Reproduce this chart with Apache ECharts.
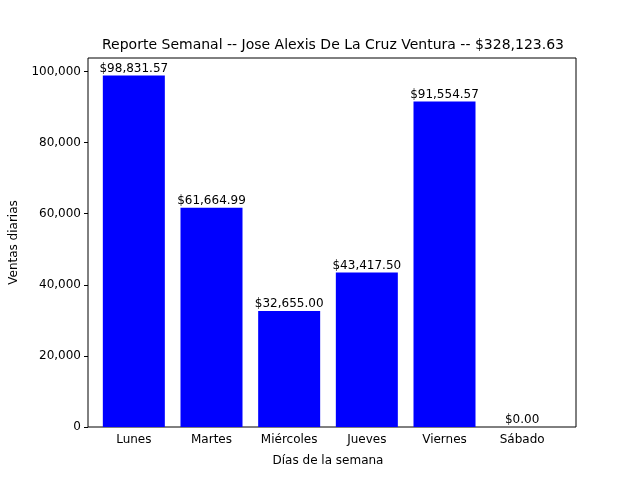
<!DOCTYPE html>
<html>
<head>
<meta charset="utf-8">
<script src="https://cdn.jsdelivr.net/npm/echarts@6/dist/echarts.min.js"></script>
<style>html,body{margin:0;padding:0;background:#fff}#main{width:640px;height:480px}</style>
</head>
<body>
<div id="main"></div>
<script>
const dias = ['Lunes', 'Martes', 'Miércoles', 'Jueves', 'Viernes', 'Sábado'];
const ventas = [98831.57, 61664.99, 32655.00, 43417.50, 91554.57, 0.00];
const yTicks = [0, 20000, 40000, 60000, 80000, 100000];

const total = ventas.reduce((a, b) => a + b, 0);
const fmt = v => '$' + v.toLocaleString('en-US', {minimumFractionDigits: 2, maximumFractionDigits: 2});
const yMax = Math.max(...ventas) * 1.05;
const font = 'DejaVu Sans';

const chart = echarts.init(document.getElementById('main'));
chart.setOption({
  animation: false,
  textStyle: {fontFamily: font},
  title: {
    text: 'Reporte Semanal -- Jose Alexis De La Cruz Ventura -- ' + fmt(total),
    left: 328, top: 33, textAlign: 'center',
    textStyle: {fontFamily: font, fontSize: 14, fontWeight: 'normal', color: '#000'}
  },
  grid: [
    {left: 80, right: 64, top: 58, bottom: 53, show: true, borderColor: '#000', borderWidth: 1},
    {left: 95, right: 79, top: 58, bottom: 53}
  ],
  xAxis: [
    {gridIndex: 0, type: 'value', show: false},
    {
      gridIndex: 1, type: 'category', data: dias,
      name: 'Días de la semana', nameLocation: 'middle', nameGap: 28,
      nameTextStyle: {fontFamily: font, fontSize: 12, color: '#000'},
      axisLine: {show: false},
      axisTick: {alignWithLabel: true, length: 4, lineStyle: {color: '#000'}},
      axisLabel: {fontFamily: font, fontSize: 12, color: '#000', margin: 7}
    }
  ],
  yAxis: [
    {
      gridIndex: 0, type: 'value', min: 0, max: yMax,
      name: 'Ventas diarias', nameLocation: 'middle', nameGap: 68,
      nameTextStyle: {fontFamily: font, fontSize: 12, color: '#000'},
      axisLine: {show: false},
      axisTick: {show: true, length: 4, lineStyle: {color: '#000'}},
      axisLabel: {
        fontFamily: font, fontSize: 12, color: '#000', margin: 7,
        customValues: yTicks
      },
      axisTick: {show: true, length: 4, lineStyle: {color: '#000'}, customValues: yTicks},
      splitLine: {show: false}
    },
    {gridIndex: 1, type: 'value', min: 0, max: yMax, show: false}
  ],
  series: [{
    type: 'bar', xAxisIndex: 1, yAxisIndex: 1,
    data: ventas, barWidth: 62,
    itemStyle: {color: '#0000ff'},
    label: {
      show: true, position: 'top', distance: 1,
      fontFamily: font, fontSize: 12, color: '#000',
      formatter: p => fmt(p.value)
    }
  }]
});
</script>
</body>
</html>
